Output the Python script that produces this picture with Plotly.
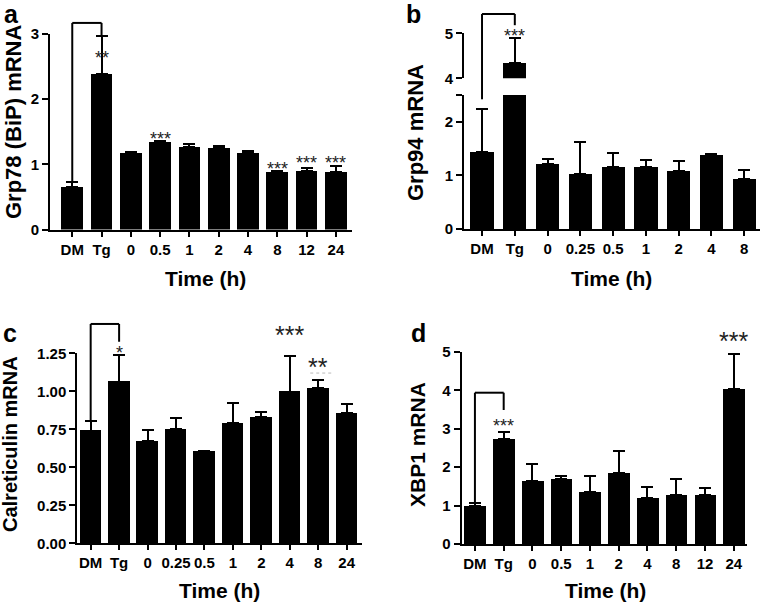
import plotly.graph_objects as go

W, H = 761, 604
FONT = "Liberation Sans, Arial, sans-serif"

# ---------------- data ----------------
a_cats = ["DM", "Tg", "0", "0.5", "1", "2", "4", "8", "12", "24"]
a_vals = [0.65, 2.38, 1.17, 1.34, 1.27, 1.25, 1.17, 0.89, 0.90, 0.89]
a_errtop = [0.73, 2.97, 1.19, 1.36, 1.31, 1.28, 1.21, 0.90, 0.95, 0.97]

b_cats = ["DM", "Tg", "0", "0.25", "0.5", "1", "2", "4", "8"]
b_vals = [1.43, 4.33, 1.21, 1.03, 1.15, 1.16, 1.09, 1.38, 0.94]
b_errtop = [2.24, 4.89, 1.31, 1.63, 1.41, 1.29, 1.27, 1.40, 1.11]

c_cats = ["DM", "Tg", "0", "0.25", "0.5", "1", "2", "4", "8", "24"]
c_vals = [0.741, 1.063, 0.671, 0.752, 0.607, 0.790, 0.829, 0.998, 1.020, 0.855]
c_errtop = [0.805, 1.236, 0.746, 0.822, 0.607, 0.921, 0.866, 1.232, 1.074, 0.916]

d_cats = ["DM", "Tg", "0", "0.5", "1", "2", "4", "8", "12", "24"]
d_vals = [1.00, 2.73, 1.65, 1.69, 1.36, 1.84, 1.21, 1.27, 1.28, 4.04]
d_errtop = [1.08, 2.92, 2.08, 1.78, 1.77, 2.43, 1.48, 1.69, 1.46, 4.94]

a_ticks = [0, 1, 2, 3]
b_low_ticks = [0, 1, 2, 2.5]
b_low_text = ["0", "1", "2", ""]
b_up_ticks = [4, 5]
c_ticks = [0, 0.25, 0.5, 0.75, 1.0, 1.25]
c_tick_text = ["0.00", "0.25", "0.50", "0.75", "1.00", "1.25"]
d_ticks = [0, 1, 2, 3, 4, 5]

# significance marks: (category index, value, text, size)
a_stars = [(1, 2.69, "**", 18), (3, 1.45, "***", 18), (7, 0.99, "***", 18),
           (8, 1.08, "***", 18), (9, 1.08, "***", 18)]
b_stars = [(1, 5.04, "***", 18)]
c_stars = [(1, 1.276, "*", 18), (7, 1.41, "***", 25), (8, 1.20, "**", 25)]
d_stars = [(1, 3.18, "***", 18), (9, 5.44, "***", 25)]

# brackets: (left idx, right idx, top value, left bottom value, right bottom value)
a_bracket = (0, 1, 3.17, 0.73, 2.97)
b_bracket = (0, 1, 5.43, 2.42, 5.18)
c_bracket = (0, 1, 1.443, 0.805, 1.326)
d_bracket = (0, 1, 3.94, 1.08, 3.49)

# ---------------- geometry (pixels -> paper) ----------------
def fx(x):
    return x / W


def fy(y):
    return 1 - y / H


def xd(l, r):
    return [fx(l), fx(r)]


def yd(bottom, top):
    return [fy(bottom), fy(top)]


A = dict(xd=xd(50, 352), xr=[-0.76, 9.55], yd=yd(229.5, 34), yr=[0, 3])
B = dict(xd=xd(464, 760), xr=[-0.55, 8.48], yd=yd(229.1, 95), yr=[0, 2.5])
BU = dict(xd=B["xd"], xr=B["xr"], yd=yd(78.3, 33.3), yr=[4, 5])
C = dict(xd=xd(77.3, 361.7), xr=[-0.47, 9.53], yd=yd(543.3, 353.3), yr=[0, 1.25])
D = dict(xd=xd(461.7, 746.7), xr=[-0.46, 9.45], yd=yd(544, 352), yr=[0, 5])


def mp(dom, rng, v):
    return dom[0] + (v - rng[0]) / (rng[1] - rng[0]) * (dom[1] - dom[0])


def px_(P, i):
    return mp(P["xd"], P["xr"], i)


def py_(P, v):
    return mp(P["yd"], P["yr"], v)


fig = go.Figure()


def add_bars(cats, vals, errtop, xa, ya, width):
    fig.add_trace(go.Bar(
        x=cats, y=vals, xaxis=xa, yaxis=ya, width=width,
        marker=dict(color="black", line=dict(width=0)),
        error_y=dict(type="data", symmetric=False,
                     array=[t - v for t, v in zip(errtop, vals)],
                     arrayminus=[0] * len(vals),
                     color="black", thickness=2, width=6),
        showlegend=False, hoverinfo="x+y"))


add_bars(a_cats, a_vals, a_errtop, "x", "y", 0.74)
add_bars(b_cats, b_vals, b_errtop, "x2", "y2", 0.71)
add_bars(b_cats, b_vals, b_errtop, "x2", "y5", 0.71)
add_bars(c_cats, c_vals, c_errtop, "x3", "y3", 0.76)
add_bars(d_cats, d_vals, d_errtop, "x4", "y4", 0.75)

tickfont = dict(family=FONT, size=15, color="black", weight="bold")


def xaxis(P, anchor):
    return dict(domain=P["xd"], range=P["xr"], anchor=anchor, type="category",
                showline=True, linewidth=2, linecolor="black", ticks="outside",
                ticklen=5, tickwidth=2, tickcolor="black", tickfont=tickfont,
                showgrid=False, zeroline=False, fixedrange=True, automargin=False)


def yaxis(P, anchor, tv, tt=None):
    return dict(domain=P["yd"], range=P["yr"], anchor=anchor,
                showline=True, linewidth=2, linecolor="black", ticks="outside",
                ticklen=6, tickwidth=2, tickcolor="black", tickfont=tickfont,
                tickvals=tv, ticktext=tt if tt else [str(t) for t in tv],
                showgrid=False, zeroline=False, fixedrange=True, automargin=False)


fig.update_layout(
    width=W, height=H, margin=dict(l=0, r=0, t=0, b=0, autoexpand=False),
    paper_bgcolor="white", plot_bgcolor="white", bargap=0,
    xaxis=xaxis(A, "y"), yaxis=yaxis(A, "x", a_ticks),
    xaxis2=xaxis(B, "y2"), yaxis2=yaxis(B, "x2", b_low_ticks, b_low_text),
    yaxis5=yaxis(BU, "x2", b_up_ticks),
    xaxis3=xaxis(C, "y3"), yaxis3=yaxis(C, "x3", c_ticks, c_tick_text),
    xaxis4=xaxis(D, "y4"), yaxis4=yaxis(D, "x4", d_ticks),
)

shapes = []
annotations = []


def bracket(P, PL, PR, br):
    li, ri, top, lb, rb = br
    xl, xr_ = px_(P, li), px_(P, ri)
    yt = py_(PR, top)
    line = dict(color="black", width=2)
    shapes.append(dict(type="line", xref="paper", yref="paper", x0=xl, x1=xr_, y0=yt, y1=yt, line=line))
    shapes.append(dict(type="line", xref="paper", yref="paper", x0=xl, x1=xl, y0=yt, y1=py_(PL, lb), line=line))
    shapes.append(dict(type="line", xref="paper", yref="paper", x0=xr_, x1=xr_, y0=yt, y1=py_(PR, rb), line=line))


bracket(A, A, A, a_bracket)
bracket(B, B, BU, b_bracket)
bracket(C, C, C, c_bracket)
bracket(D, D, D, d_bracket)


def stars(P, lst):
    for i, v, t, s in lst:
        annotations.append(dict(x=px_(P, i), y=py_(P, v) - 0.23 * s / H, xref="paper", yref="paper",
                                text=t, showarrow=False, xanchor="center", yanchor="middle",
                                font=dict(family=FONT, size=s, color="#222")))


stars(A, a_stars)
stars(BU, b_stars)
stars(C, c_stars)
stars(D, d_stars)

# faint dotted line under ** in panel c
shapes.append(dict(type="line", xref="paper", yref="paper",
                   x0=px_(C, 7.72), x1=px_(C, 8.48), y0=py_(C, 1.12), y1=py_(C, 1.12),
                   line=dict(color="#bbbbbb", width=1, dash="dot")))


def label(x, y, text, size, angle=0):
    annotations.append(dict(x=fx(x), y=fy(y), xref="paper", yref="paper", text=text,
                            showarrow=False, xanchor="center", yanchor="middle", textangle=angle,
                            font=dict(family=FONT, size=size, color="black", weight="bold")))


# axis titles
label(205, 278, "Time (h)", 21)
label(611, 278, "Time (h)", 21)
label(219, 590, "Time (h)", 21)
label(605, 590, "Time (h)", 21)
label(13, 122, "Grp78 (BiP) mRNA", 22, -90)
label(416, 133, "Grp94 mRNA", 22, -90)
label(10, 444, "Calreticulin mRNA", 20, -90)
label(417, 445, "XBP1 mRNA", 21, -90)

# panel letters
label(11, 14, "a", 25)
label(414, 14, "b", 25)
label(10, 333, "c", 25)
label(418, 333, "d", 25)

fig.update_layout(shapes=shapes, annotations=annotations)
# remove the default 8px page margin so the figure fills the window exactly
fig.write_html("out.html",
               config={"displayModeBar": False},
               post_script="document.documentElement.style.margin='0';"
                           "document.body.style.margin='0';"
                           "document.body.style.overflow='hidden';")
